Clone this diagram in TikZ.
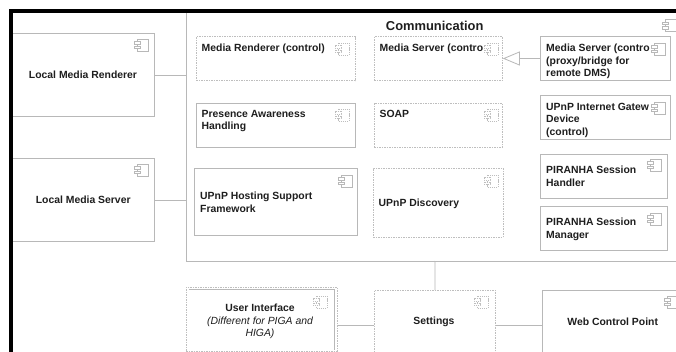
\documentclass[tikz,border=0pt]{standalone}
\usepackage{fontspec}
\setmainfont{Liberation Sans}
\usetikzlibrary{arrows.meta}
\definecolor{ln}{HTML}{B8B8B8}
\definecolor{lnd}{HTML}{BEBEBE}
\definecolor{txt}{HTML}{1E1E1E}
\tikzset{
  x=1pt,y=-1pt,
  solidbox/.style={draw=ln,line width=1pt,fill=white,rectangle,anchor=north west,inner sep=0pt},
  dashbox/.style={draw=lnd,line width=0.8pt,dash pattern=on 1.5pt off 1pt,fill=white,rectangle,anchor=north west,inner sep=0pt},
  lbl/.style={font=\fontsize{10.4}{12.4}\selectfont\bfseries,text=txt,align=left,anchor=north west,inner sep=0pt},
  lblc/.style={font=\fontsize{10.4}{12.4}\selectfont\bfseries,text=txt,align=center,inner sep=0pt},
  conn/.style={draw=ln,line width=0.8pt},
  iconline/.style={draw=ln,line width=0.6pt,fill=white},
  icondash/.style={draw=lnd,dash pattern=on 1.2pt off 0.9pt},
}
% icon: top-left x, y of the body, style
\newcommand{\myicon}[3]{%
  \path[iconline,#3] (#1,#2) rectangle ++(11,12);
  \path[iconline,#3] (#1-3,#2+2.5) rectangle ++(6,2.5);
  \path[iconline,#3] (#1-3,#2+7) rectangle ++(6,2.5);
}
\begin{document}
\begin{tikzpicture}
\useasboundingbox (0,0) rectangle (676,352);
\fill[white] (0,0) rectangle (676,352);
% Communication
\node[solidbox,line width=1.3pt,minimum width=500pt,minimum height=250pt,] (comm) at (186,11) {};
% Local boxes
\node[solidbox,minimum width=143pt,minimum height=83pt] (lmr) at (11,33) {};
\node[solidbox,minimum width=143pt,minimum height=83pt] (lms) at (11,158) {};
\node[lblc] (lmrt) at (83,74.7) {Local Media Renderer};
\node[lblc] (lmst) at (83.2,199.7) {Local Media Server};
\myicon{137}{39}{}
\myicon{137}{164}{}
\draw[conn] (lmr.east) -- (lmr.east -| comm.west);
\draw[conn] (lms.east) -- (lms.east -| comm.west);
% Bottom row boxes
\node[dashbox,minimum width=151pt,minimum height=63.5pt] (uiouter) at (186,287) {};
\node[solidbox,draw=none,minimum width=145pt,minimum height=59pt] (uiinner) at (188.5,289.5) {};
\draw[ln,line width=0.8pt] (uiinner.north west) -- (uiinner.north east) -- (uiinner.south east);
\node[dashbox,minimum width=121pt,minimum height=70pt] (settings) at (374,290) {};
\node[solidbox,minimum width=140pt,minimum height=70pt] (wcp) at (542,290) {};
\draw[conn] (435,261) -- (settings.north);
\draw[conn] (uiouter.east |- settings.west) -- (settings.west);
\draw[conn] (settings.east) -- (wcp.west);
\node[lblc,font=\fontsize{10.4}{12.4}\selectfont] (uit) at (260,321.5) {\bfseries User Interface\\\itshape (Different for PIGA and\\\itshape HIGA)};
\node[lblc] (sett) at (434,321.7) {Settings};
\node[lblc] (wcpt) at (612.7,321.7) {Web Control Point};
\myicon{316}{296}{icondash}
\myicon{477}{296}{icondash}
\myicon{667}{296}{}
% Title
\node[lblc,font=\fontsize{12.9}{14}\selectfont\bfseries] (commt) at (434.7,26) {Communication};
\myicon{665}{19.5}{}
% Inner boxes
\node[dashbox,minimum width=159pt,minimum height=44pt] (mrc) at (196,36.5) {};
\node[dashbox,minimum width=128pt,minimum height=44pt] (msc) at (374,36.5) {};
\node[solidbox,minimum width=130pt,minimum height=44pt] (msp) at (540,36.5) {};
\node[solidbox,minimum width=159pt,minimum height=44pt] (pah) at (196,103) {};
\node[dashbox,minimum width=128pt,minimum height=44pt] (soap) at (374,103) {};
\node[solidbox,minimum width=130pt,minimum height=44pt] (igd) at (540,95.5) {};
\node[solidbox,minimum width=127pt,minimum height=44pt] (psh) at (540,154) {};
\node[solidbox,minimum width=127pt,minimum height=44pt] (psm) at (540,206) {};
\node[solidbox,minimum width=163pt,minimum height=67pt] (uhs) at (194,168) {};
\node[dashbox,minimum width=130pt,minimum height=69pt] (disc) at (373,168) {};
\draw[conn,-{Triangle[open,length=17pt,width=14pt,fill=white]}] (msp.west |- 0,58.5) -- (msc.east |- 0,58.5);
% Texts
\node[lbl] (t1) at (201.5,44) {Media Renderer (control)};
\node[lbl] (t2) at (379.5,44) {Media Server (contro};
\node[lbl] (t3) at (546,44) {Media Server (contro\\(proxy/bridge for\\remote DMS)};
\node[lbl] (t4) at (201.5,110) {Presence Awareness\\Handling};
\node[lbl] (t5) at (379.5,110) {SOAP};
\node[lbl] (t6) at (546,103) {UPnP Internet Gatew\\Device\\(control)};
\node[lbl] (t7) at (546,166) {PIRANHA Session\\Handler};
\node[lbl] (t8) at (546,218) {PIRANHA Session\\Manager};
\node[lbl] (t9) at (200,192) {UPnP Hosting Support\\Framework};
\node[lbl] (t10) at (378.5,198.5) {UPnP Discovery};
% Icons
\myicon{338}{43}{icondash}
\myicon{487}{43}{icondash}
\myicon{654}{43}{}
\myicon{338}{109}{icondash}
\myicon{487}{109}{icondash}
\myicon{654}{102}{}
\myicon{650}{159}{}
\myicon{650}{213}{}
\myicon{341}{175}{}
\myicon{487}{175}{icondash}
% Black frame
\draw[black,line width=3.6pt] (676,11) -- (11,11) -- (11,352);
\end{tikzpicture}
\end{document}
